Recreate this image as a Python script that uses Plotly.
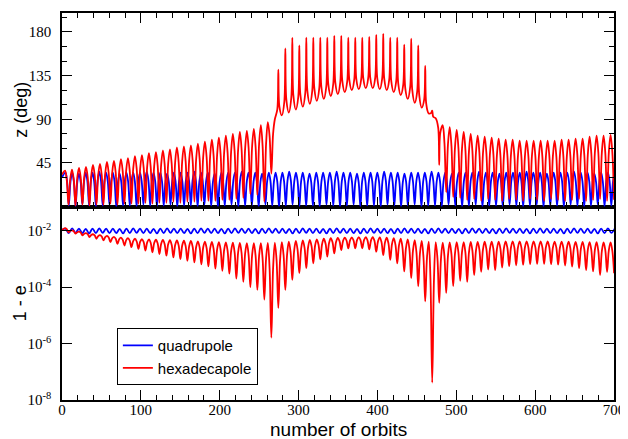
import plotly.graph_objects as go

# ---------------- data ----------------
# hexadecapole: one value per oscillation cycle k
RED_T0 = 3.8          # orbit of first z-maximum
RED_PERIOD = 8.87     # orbits per cycle
LIB_FIRST, LIB_LAST = 30, 53   # cycles in the librating (spiky) regime
SPIKE_HALF_WIDTH = 1.3         # orbits, half base-width of the spikes
ARCH_SHOULDER = 0.27           # arch shape: drop at quarter period (fraction of swing)
SPIKE_SHOULDER = 0.2

red_z_start = 33.0
red_z_peak = [
    37, 38, 40, 41, 43, 44, 46, 47, 49, 50, 52, 53, 55, 56, 58, 59, 61, 62, 63, 65,
    67, 69, 71, 73, 75, 77, 78, 80, 84, 87,
    90, 94, 97, 100, 103, 106, 109, 111, 114, 116, 118, 120, 121, 122, 122, 121,
    120, 118, 115, 111, 107, 102, 96, 91,
    84, 82, 79, 77, 75, 73, 72, 71, 70, 69, 69, 68, 68, 68, 68, 68, 68, 69, 69, 70,
    70, 72, 73, 73, 74]
red_z_trough = [
    2, 1, 2, 1, 2, 2, 3, 2, 3, 3, 3, 4, 3, 4, 4, 5, 4, 5, 5, 6, 6, 6, 7, 7, 8, 9,
    13, 12, 5, 34,
    141, 163, 174, 166, 174, 174, 174, 174, 176, 176, 174, 174, 174, 175, 177, 178,
    174, 174, 167, 173, 166, 145, 99, 43,
    15, 10, 9, 7, 8, 6, 8, 7, 6, 8, 7, 6, 8, 7, 6, 8, 7, 6, 7, 8, 6, 7, 8, 6, 7]

red_loge_start = -1.97
red_loge_peak = [
    -1.90, -1.98, -2.03, -2.08, -2.12, -2.15, -2.18, -2.21, -2.24, -2.26,
    -2.28, -2.29, -2.30, -2.31, -2.32, -2.33, -2.34, -2.35, -2.36, -2.37,
    -2.38, -2.39, -2.40, -2.41, -2.42, -2.43, -2.44, -2.44, -2.44, -2.43,
    -2.42, -2.40, -2.38, -2.36, -2.34, -2.32, -2.30, -2.28, -2.26, -2.25,
    -2.24, -2.23, -2.22, -2.22, -2.22, -2.23, -2.24, -2.26, -2.28, -2.30,
    -2.33, -2.36, -2.38, -2.40,
    -2.42, -2.41, -2.40, -2.40, -2.39, -2.39, -2.38, -2.38, -2.38, -2.37,
    -2.37, -2.37, -2.37, -2.37, -2.37, -2.37, -2.38, -2.38, -2.38, -2.39,
    -2.39, -2.40, -2.40, -2.41, -2.41]
red_loge_dip = [
    -2.05, -2.10, -2.16, -2.22, -2.28, -2.34, -2.40, -2.46, -2.52, -2.58,
    -2.64, -2.70, -2.76, -2.82, -2.88, -2.94, -3.00, -3.06, -3.12, -3.19,
    -3.26, -3.34, -3.42, -3.52, -3.69, -3.81,
    -4.00, -4.09, -4.44, -5.79, -4.73, -4.09, -3.74, -3.50, -3.32, -3.15,
    -3.01, -2.91, -2.80, -2.68, -2.62, -2.62, -2.62, -2.66, -2.74, -2.86,
    -3.03, -3.15, -3.44, -3.68, -3.97, -4.50, -7.38, -4.55,
    -4.20, -3.96, -3.77, -3.81, -3.57, -3.45, -3.37, -3.39, -3.30, -3.25,
    -3.22, -3.20, -3.18, -3.17, -3.17, -3.18, -3.20, -3.23, -3.27, -3.32,
    -3.39, -3.44, -3.57, -3.45, -3.50]

# quadrupole
BLUE_T0 = 4.3
BLUE_PERIOD = 8.6
blue_z_start = 30.0
blue_z_peak = [
    35, 35, 34, 35, 35, 36, 35, 35, 34, 35, 35, 35, 36, 35, 35, 34, 35, 35, 35, 36,
    35, 35, 34, 35, 35, 35, 36, 35, 35, 34, 35, 35, 35, 36, 35, 35, 34, 35, 35, 35,
    36, 35, 35, 34, 35, 35, 35, 36, 35, 35, 34, 35, 35, 35, 36, 35, 35, 34, 35, 35,
    35, 36, 35, 35, 34, 35, 35, 35, 36, 35, 35, 34, 35, 35, 35, 36, 35, 35, 34, 35,
    35, 35]
blue_z_trough = [
    1, 0, 2, 1, 0, 1, 2, 0, 1, 1, 0, 2, 1, 0, 1, 2, 0, 1, 1, 0,
    2, 1, 0, 1, 2, 0, 1, 1, 0, 2, 1, 0, 1, 2, 0, 1, 1, 0, 2, 1,
    0, 1, 2, 0, 1, 1, 0, 2, 1, 0, 1, 2, 0, 1, 1, 0, 2, 1, 0, 1,
    2, 0, 1, 1, 0, 2, 1, 0, 1, 2, 0, 1, 1, 0, 2, 1, 0, 1, 2, 0,
    1]
blue_loge_start = -1.97
blue_loge_high = [
    -1.92, -1.91, -1.92, -1.93, -1.92, -1.91, -1.92, -1.92, -1.93, -1.92,
    -1.91, -1.92, -1.92, -1.93, -1.92, -1.91, -1.92, -1.92, -1.93, -1.92,
    -1.91, -1.92, -1.92, -1.93, -1.92, -1.91, -1.92, -1.92, -1.93, -1.92,
    -1.91, -1.92, -1.92, -1.93, -1.92, -1.91, -1.92, -1.92, -1.93, -1.92,
    -1.91, -1.92, -1.92, -1.93, -1.92, -1.91, -1.92, -1.92, -1.93, -1.92,
    -1.91, -1.92, -1.92, -1.93, -1.92, -1.91, -1.92, -1.92, -1.93, -1.92,
    -1.91, -1.92, -1.92, -1.93, -1.92, -1.91, -1.92, -1.92, -1.93, -1.92,
    -1.91, -1.92, -1.92, -1.93, -1.92, -1.91, -1.92, -1.92, -1.93, -1.92,
    -1.91, -1.92]
blue_loge_low = [
    -2.08, -2.07, -2.08, -2.09, -2.08, -2.07, -2.08, -2.08, -2.09, -2.08,
    -2.07, -2.08, -2.08, -2.09, -2.08, -2.07, -2.08, -2.08, -2.09, -2.08,
    -2.07, -2.08, -2.08, -2.09, -2.08, -2.07, -2.08, -2.08, -2.09, -2.08,
    -2.07, -2.08, -2.08, -2.09, -2.08, -2.07, -2.08, -2.08, -2.09, -2.08,
    -2.07, -2.08, -2.08, -2.09, -2.08, -2.07, -2.08, -2.08, -2.09, -2.08,
    -2.07, -2.08, -2.08, -2.09, -2.08, -2.07, -2.08, -2.08, -2.09, -2.08,
    -2.07, -2.08, -2.08, -2.09, -2.08, -2.07, -2.08, -2.08, -2.09, -2.08,
    -2.07, -2.08, -2.08, -2.09, -2.08, -2.07, -2.08, -2.08, -2.09, -2.08,
    -2.07]

x_ticks = [0, 100, 200, 300, 400, 500, 600, 700]
z_ticks = [45, 90, 135, 180]
e_ticks = [1e-8, 1e-6, 1e-4, 1e-2]
e_ticktext = ["10<sup>-8</sup>", "10<sup>-6</sup>", "10<sup>-4</sup>", "10<sup>-2</sup>"]


# ---------------- build curves from the extrema ----------------
def wave(t0, period, start, rounded, sharp, spikes=(), arch=True, log=False):
    """rounded extrema at t0+k*P, sharp extrema half a period later."""
    xs, ys = [0.0], [start]
    n = len(rounded)
    for k in range(n):
        tp = t0 + k * period
        tt = tp + period / 2
        r = rounded[k]
        xs.append(tp); ys.append(r)
        if k >= len(sharp):
            continue
        s = sharp[k]
        if k in spikes:
            d, f = SPIKE_HALF_WIDTH, SPIKE_SHOULDER
        else:
            d, f = period / 4, ARCH_SHOULDER
        if arch:
            xs.append(tt - d); ys.append(r + f * (s - r))
        xs.append(tt); ys.append(s)
        if arch and k + 1 < n:
            rn = rounded[k + 1]
            xs.append(tt + d); ys.append(rn + f * (s - rn))
    if log:
        ys = [10 ** v for v in ys]
    return xs, ys


LIB = set(range(LIB_FIRST, LIB_LAST + 1))
rzx, rzy = wave(RED_T0, RED_PERIOD, red_z_start, red_z_peak, red_z_trough, spikes=LIB)
bzx, bzy = wave(BLUE_T0, BLUE_PERIOD, blue_z_start, blue_z_peak, blue_z_trough)
rex, rey = wave(RED_T0, RED_PERIOD, red_loge_start, red_loge_peak, red_loge_dip, log=True)
bex, bey = wave(BLUE_T0, BLUE_PERIOD, blue_loge_start, blue_loge_high, blue_loge_low,
                arch=False, log=True)

BLUE = "#0000ff"
RED = "#ff0000"
LW = 1.8
SM = 1.0
fig = go.Figure()
fig.add_trace(go.Scatter(x=bzx, y=bzy, xaxis="x2", yaxis="y2", mode="lines",
                         line=dict(color=BLUE, width=LW, shape="spline", smoothing=SM),
                         showlegend=False, hoverinfo="skip"))
fig.add_trace(go.Scatter(x=rzx, y=rzy, xaxis="x2", yaxis="y2", mode="lines",
                         line=dict(color=RED, width=LW, shape="spline", smoothing=SM),
                         showlegend=False, hoverinfo="skip"))
fig.add_trace(go.Scatter(x=bex, y=bey, xaxis="x", yaxis="y", mode="lines", name="quadrupole",
                         line=dict(color=BLUE, width=LW, shape="spline", smoothing=SM)))
fig.add_trace(go.Scatter(x=rex, y=rey, xaxis="x", yaxis="y", mode="lines", name="hexadecapole",
                         line=dict(color=RED, width=LW, shape="spline", smoothing=SM)))

SERIF = "Liberation Serif, Times New Roman, serif"
SANS = "Liberation Sans, Arial, sans-serif"
axis_common = dict(showline=True, linecolor="black", linewidth=1.5, mirror="ticks",
                   ticks="inside", ticklen=10, tickwidth=1, tickcolor="black",
                   showgrid=False, zeroline=False,
                   tickfont=dict(family=SERIF, size=15, color="black"))
minor_ticks = dict(ticks="inside", ticklen=5, tickcolor="black")
SPLIT = 0.4997

# the page body adds an 8 px offset, so the figure is sized 8 px smaller
fig.update_layout(
    width=620, height=431,
    margin=dict(l=54, r=13, t=3, b=39),
    paper_bgcolor="white", plot_bgcolor="white",
    xaxis=dict(domain=[0, 1], anchor="y", range=[0, 700], tickvals=x_ticks,
               minor=dict(dtick=20, tick0=0, **minor_ticks),
               ticklabelstandoff=-5, **axis_common),
    xaxis2=dict(domain=[0, 1], anchor="y2", range=[0, 700], matches="x", tickvals=x_ticks,
                showticklabels=False, minor=dict(dtick=20, tick0=0, **minor_ticks),
                **axis_common),
    yaxis=dict(domain=[0, SPLIT], anchor="x", type="log", range=[-8, -1.14],
               tickvals=e_ticks, ticktext=e_ticktext, ticklabelstandoff=6, **axis_common),
    yaxis2=dict(domain=[SPLIT, 1], anchor="x2", range=[0, 199.5], tickvals=z_ticks,
                minor=dict(dtick=15, tick0=0, **minor_ticks),
                ticklabelstandoff=6, **axis_common),
    legend=dict(x=0.0994, y=0.1856, xanchor="left", yanchor="top",
                bordercolor="black", borderwidth=1, bgcolor="white",
                font=dict(family=SANS, size=15, color="black"),
                itemwidth=30, tracegroupgap=0),
    annotations=[
        dict(text="z (deg)", xref="paper", yref="paper", x=0, y=(1 + SPLIT) / 2,
             xanchor="center", yanchor="middle", xshift=-41, textangle=-90, showarrow=False,
             font=dict(family=SANS, size=18, color="black")),
        dict(text="1 - e", xref="paper", yref="paper", x=0, y=SPLIT / 2,
             xanchor="center", yanchor="middle", xshift=-42, textangle=-90, showarrow=False,
             font=dict(family=SANS, size=18, color="black")),
        dict(text="number of orbits", xref="paper", yref="paper", x=0.5, y=0,
             xanchor="center", yanchor="middle", yshift=-29, showarrow=False,
             font=dict(family=SANS, size=19, color="black")),
    ],
)

fig.write_html("out.html")
